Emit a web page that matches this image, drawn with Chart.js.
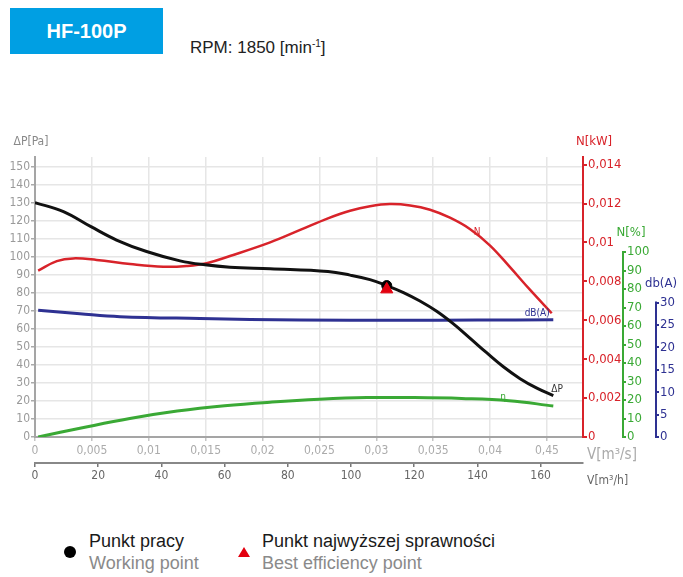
<!DOCTYPE html>
<html>
<head>
<meta charset="utf-8">
<script src="https://cdn.jsdelivr.net/npm/chart.js@4.4.0/dist/chart.umd.min.js"></script>
<style>
  body { margin: 0; width: 683px; height: 577px; background: #fff; position: relative; overflow: hidden;
         font-family: 'Liberation Sans', Arial, sans-serif; }
  .badge { position: absolute; left: 10px; top: 8px; width: 153px; height: 46px; background: #009fe3;
           color: #fff; font-weight: bold; font-size: 20px; display: flex; align-items: center; justify-content: center; }
  .rpm { position: absolute; left: 190px; top: 39px; font-size: 17px; line-height: 17px; color: #222; }
  .rpm sup { font-size: 10px; vertical-align: 6px; line-height: 0; }
  #wrap { position: absolute; left: 0; top: 130px; width: 683px; height: 357px; }
  .leg { position: absolute; font-size: 18px; line-height: 18px; white-space: nowrap; }
  .leg.pl { color: #1a1a1a; top: 532px; }
  .leg.en { color: #8a8a8a; top: 554px; }
  .dot { position: absolute; left: 64px; top: 546px; width: 12px; height: 12px; border-radius: 50%; background: #000; }
  .tri { position: absolute; left: 238px; top: 547px; width: 0; height: 0;
         border-left: 6px solid transparent; border-right: 6px solid transparent; border-bottom: 10px solid #e3000f; }
</style>
</head>
<body>
<div class="badge">HF-100P</div>
<div class="rpm">RPM: 1850 [min<sup>-1</sup>]</div>
<div id="wrap"><canvas id="chart" width="683" height="357"></canvas></div>

<div class="dot"></div>
<div class="leg pl" style="left:89px">Punkt pracy</div>
<div class="leg en" style="left:89px">Working point</div>
<div class="tri"></div>
<div class="leg pl" style="left:262px">Punkt najwyższej sprawności</div>
<div class="leg en" style="left:262px">Best efficiency point</div>

<script>
// flow in m3/h
const flowDp = [0, 9, 17.7, 25.8, 35.3, 45.9, 53.8, 61.7, 74.4, 92.7, 99.7, 106, 111.3, 116.6, 121.8, 127.1, 132.4, 137.7, 142.9, 148.2, 153.5, 158.8, 164];
const pressure = [130.2, 125.2, 116.8, 109.4, 103, 97.8, 95.6, 94.3, 93.4, 91.9, 89.9, 87.4, 84.1, 80.2, 75.5, 69.8, 62.8, 54.8, 46.8, 39, 32.4, 27.1, 23];

const flowN = [1, 6.9, 12.1, 19.5, 30.1, 40.6, 48, 54.3, 61.7, 74.4, 83.9, 92.7, 99.7, 106, 112.3, 118.7, 125, 131.3, 137.7, 144, 150.3, 156.6, 163.5];
const power = [0.00855, 0.00904, 0.00918, 0.0091, 0.00889, 0.00875, 0.00879, 0.00893, 0.0093, 0.01, 0.01064, 0.01124, 0.01163, 0.01186, 0.01197, 0.0119, 0.01168, 0.01127, 0.01068, 0.00984, 0.00873, 0.00757, 0.00636];

const flowDb = [1, 14.2, 26.9, 52.2, 83.9, 115.5, 140, 164];
const noise = [28.3, 27.5, 26.85, 26.45, 26.1, 26.05, 26.1, 26.15];

const flowEff = [1, 15, 30, 45, 60, 75, 90, 105, 120, 135, 150, 164];
const efficiency = [0, 5, 10, 14, 16.9, 18.9, 20.4, 21.3, 21.3, 20.8, 19.6, 16.8];

const workPoint = { x: 111.3, y: 84.1 };
const bestPoint = { x: 111.3, y: 82.0 };

// tick values and labels
const paTicks = [0, 10, 20, 30, 40, 50, 60, 70, 80, 90, 100, 110, 120, 130, 140, 150];
const kwTicks = [0, 0.002, 0.004, 0.006, 0.008, 0.01, 0.012, 0.014];
const kwLabels = ['0', '0,002', '0,004', '0,006', '0,008', '0,01', '0,012', '0,014'];
const effTicks = [0, 10, 20, 30, 40, 50, 60, 70, 80, 90, 100];
const dbTicks = [0, 5, 10, 15, 20, 25, 30];
const secTicks = [0, 18, 36, 54, 72, 90, 108, 126, 144, 162]; // m3/s ticks expressed in m3/h
const secLabels = ['0', '0,005', '0,01', '0,015', '0,02', '0,025', '0,03', '0,035', '0,04', '0,45'];
const hourTicks = [0, 20, 40, 60, 80, 100, 120, 140, 160];

const RED = '#d8232a', GREEN = '#3aa935', BLUE = '#2e3192';
const NARROW = "'Liberation Sans Narrow', 'DejaVu Sans Condensed', sans-serif";
const X_MAX = 173.4;

const pts = (xs, ys) => xs.map((x, i) => ({ x, y: ys[i] }));
const curve = (data, color, axis, width) => ({
  data, borderColor: color, borderWidth: width, pointRadius: 0, yAxisID: axis,
  tension: 0.4, fill: false
});
const useTicks = arr => s => { s.ticks = arr.map(v => ({ value: v })); };
const fixW = w => s => { s.width = w; };
const fixH = h => s => { s.height = h; };

const extras = {
  id: 'extras',
  afterDraw(chart) {
    const c = chart.ctx, sc = chart.scales;
    c.save();
    // green and blue axis lines only span their tick range
    [['eff', 100, GREEN], ['db', 30, BLUE]].forEach(([id, top, col]) => {
      const s = sc[id];
      c.strokeStyle = col; c.lineWidth = 2;
      c.beginPath(); c.moveTo(s.left + 1, s.getPixelForValue(0) + 1); c.lineTo(s.left + 1, s.getPixelForValue(top) - 1); c.stroke();
    });
    const txt = (t, x, y, col, size, align) => {
      c.fillStyle = col; c.font = size + 'px ' + NARROW; c.textAlign = align || 'center'; c.textBaseline = 'middle';
      c.fillText(t, x, y);
    };
    txt('ΔP[Pa]', 31, 12, '#888', 12);
    txt('N[kW]', sc.kw.left + 11, 12, RED, 13);
    txt('N[%]', sc.eff.left + 9, sc.eff.getPixelForValue(100) - 19, GREEN, 13);
    txt('db(A)', sc.db.left + 6, sc.db.getPixelForValue(30) - 19, BLUE, 13);
    txt('V[m³/s]', sc.kw.left + 4, sc.x.top + 18, '#aaa', 15, 'left');
    txt('V[m³/h]', sc.kw.left + 4, sc.xh.top + 18, '#666', 12, 'left');
    // curve names
    const xp = v => sc.x.getPixelForValue(v);
    txt('N', xp(139.9), sc.kw.getPixelForValue(0.01053), RED, 10);
    txt('dB(A)', xp(158.9), sc.db.getPixelForValue(27.5), BLUE, 10);
    txt('ΔP', xp(165.2), sc.y.getPixelForValue(26.7), '#333', 10);
    txt('η', xp(148.1), sc.eff.getPixelForValue(21.6), GREEN, 10);
    c.restore();
  }
};

new Chart(document.getElementById('chart'), {
  type: 'line',
  data: {
    datasets: [
      { type: 'scatter', data: [bestPoint], pointStyle: 'triangle', pointRadius: 7, backgroundColor: '#e3000f', borderColor: '#e3000f', yAxisID: 'y' },
      { type: 'scatter', data: [workPoint], pointStyle: 'circle', pointRadius: 5, backgroundColor: '#000', borderColor: '#000', yAxisID: 'y' },
      curve(pts(flowDp, pressure), '#111', 'y', 3),
      curve(pts(flowDb, noise), BLUE, 'db', 3),
      curve(pts(flowN, power), RED, 'kw', 2.5),
      curve(pts(flowEff, efficiency), GREEN, 'eff', 3)
    ]
  },
  options: {
    responsive: false,
    devicePixelRatio: 1,
    animation: false,
    layout: { padding: { top: 27, right: 0, bottom: 0, left: 0 } },
    plugins: { legend: { display: false }, tooltip: { enabled: false } },
    scales: {
      x: {
        type: 'linear', position: 'bottom', min: 0, max: X_MAX, weight: 0,
        afterBuildTicks: useTicks(secTicks), afterFit: fixH(26),
        grid: { color: '#e6e6e6', lineWidth: 1.5, tickLength: 4, tickColor: '#c4c4c4' },
        border: { color: '#a5a5a5', width: 2 },
        ticks: { autoSkip: false, maxRotation: 0, padding: 3, color: '#ababab',
                 font: { family: NARROW, size: 12 }, callback: (v, i) => secLabels[i] }
      },
      xh: {
        type: 'linear', position: 'bottom', min: 0, max: X_MAX, weight: 1,
        afterBuildTicks: useTicks(hourTicks), afterFit: fixH(24),
        grid: { drawOnChartArea: false, tickLength: 4, tickColor: '#777', lineWidth: 1.5 },
        border: { color: '#888', width: 2 },
        ticks: { autoSkip: false, maxRotation: 0, padding: 2, color: '#666',
                 font: { family: NARROW, size: 12 } }
      },
      y: {
        type: 'linear', position: 'left', min: 0, max: 155.5,
        afterBuildTicks: useTicks(paTicks), afterFit: fixW(35),
        grid: { color: '#e6e6e6', lineWidth: 1.5, tickLength: 4, tickColor: '#aaa' },
        border: { color: '#a5a5a5', width: 2 },
        ticks: { autoSkip: false, padding: 1, color: '#9a9a9a', font: { family: NARROW, size: 12 } }
      },
      kw: {
        type: 'linear', position: 'right', min: 0, max: 0.01439, weight: 0,
        afterBuildTicks: useTicks(kwTicks), afterFit: fixW(39),
        grid: { drawOnChartArea: false, tickLength: 4, tickColor: RED, lineWidth: 2 },
        border: { color: RED, width: 2 },
        ticks: { autoSkip: false, padding: 1, color: RED, font: { family: NARROW, size: 13 },
                 callback: (v, i) => kwLabels[i] }
      },
      eff: {
        type: 'linear', position: 'right', min: 0, max: 151.4, weight: 1,
        afterBuildTicks: useTicks(effTicks), afterFit: fixW(33),
        grid: { drawOnChartArea: false, tickLength: 4, tickColor: GREEN, lineWidth: 2 },
        border: { display: false },
        ticks: { autoSkip: false, padding: 1, color: GREEN, font: { family: NARROW, size: 13 } }
      },
      db: {
        type: 'linear', position: 'right', min: 0, max: 62.5, weight: 2,
        afterBuildTicks: useTicks(dbTicks), afterFit: fixW(28),
        grid: { drawOnChartArea: false, tickLength: 4, tickColor: BLUE, lineWidth: 2 },
        border: { display: false },
        ticks: { autoSkip: false, padding: 1, color: BLUE, font: { family: NARROW, size: 13 } }
      }
    }
  },
  plugins: [extras]
});
</script>
</body>
</html>
